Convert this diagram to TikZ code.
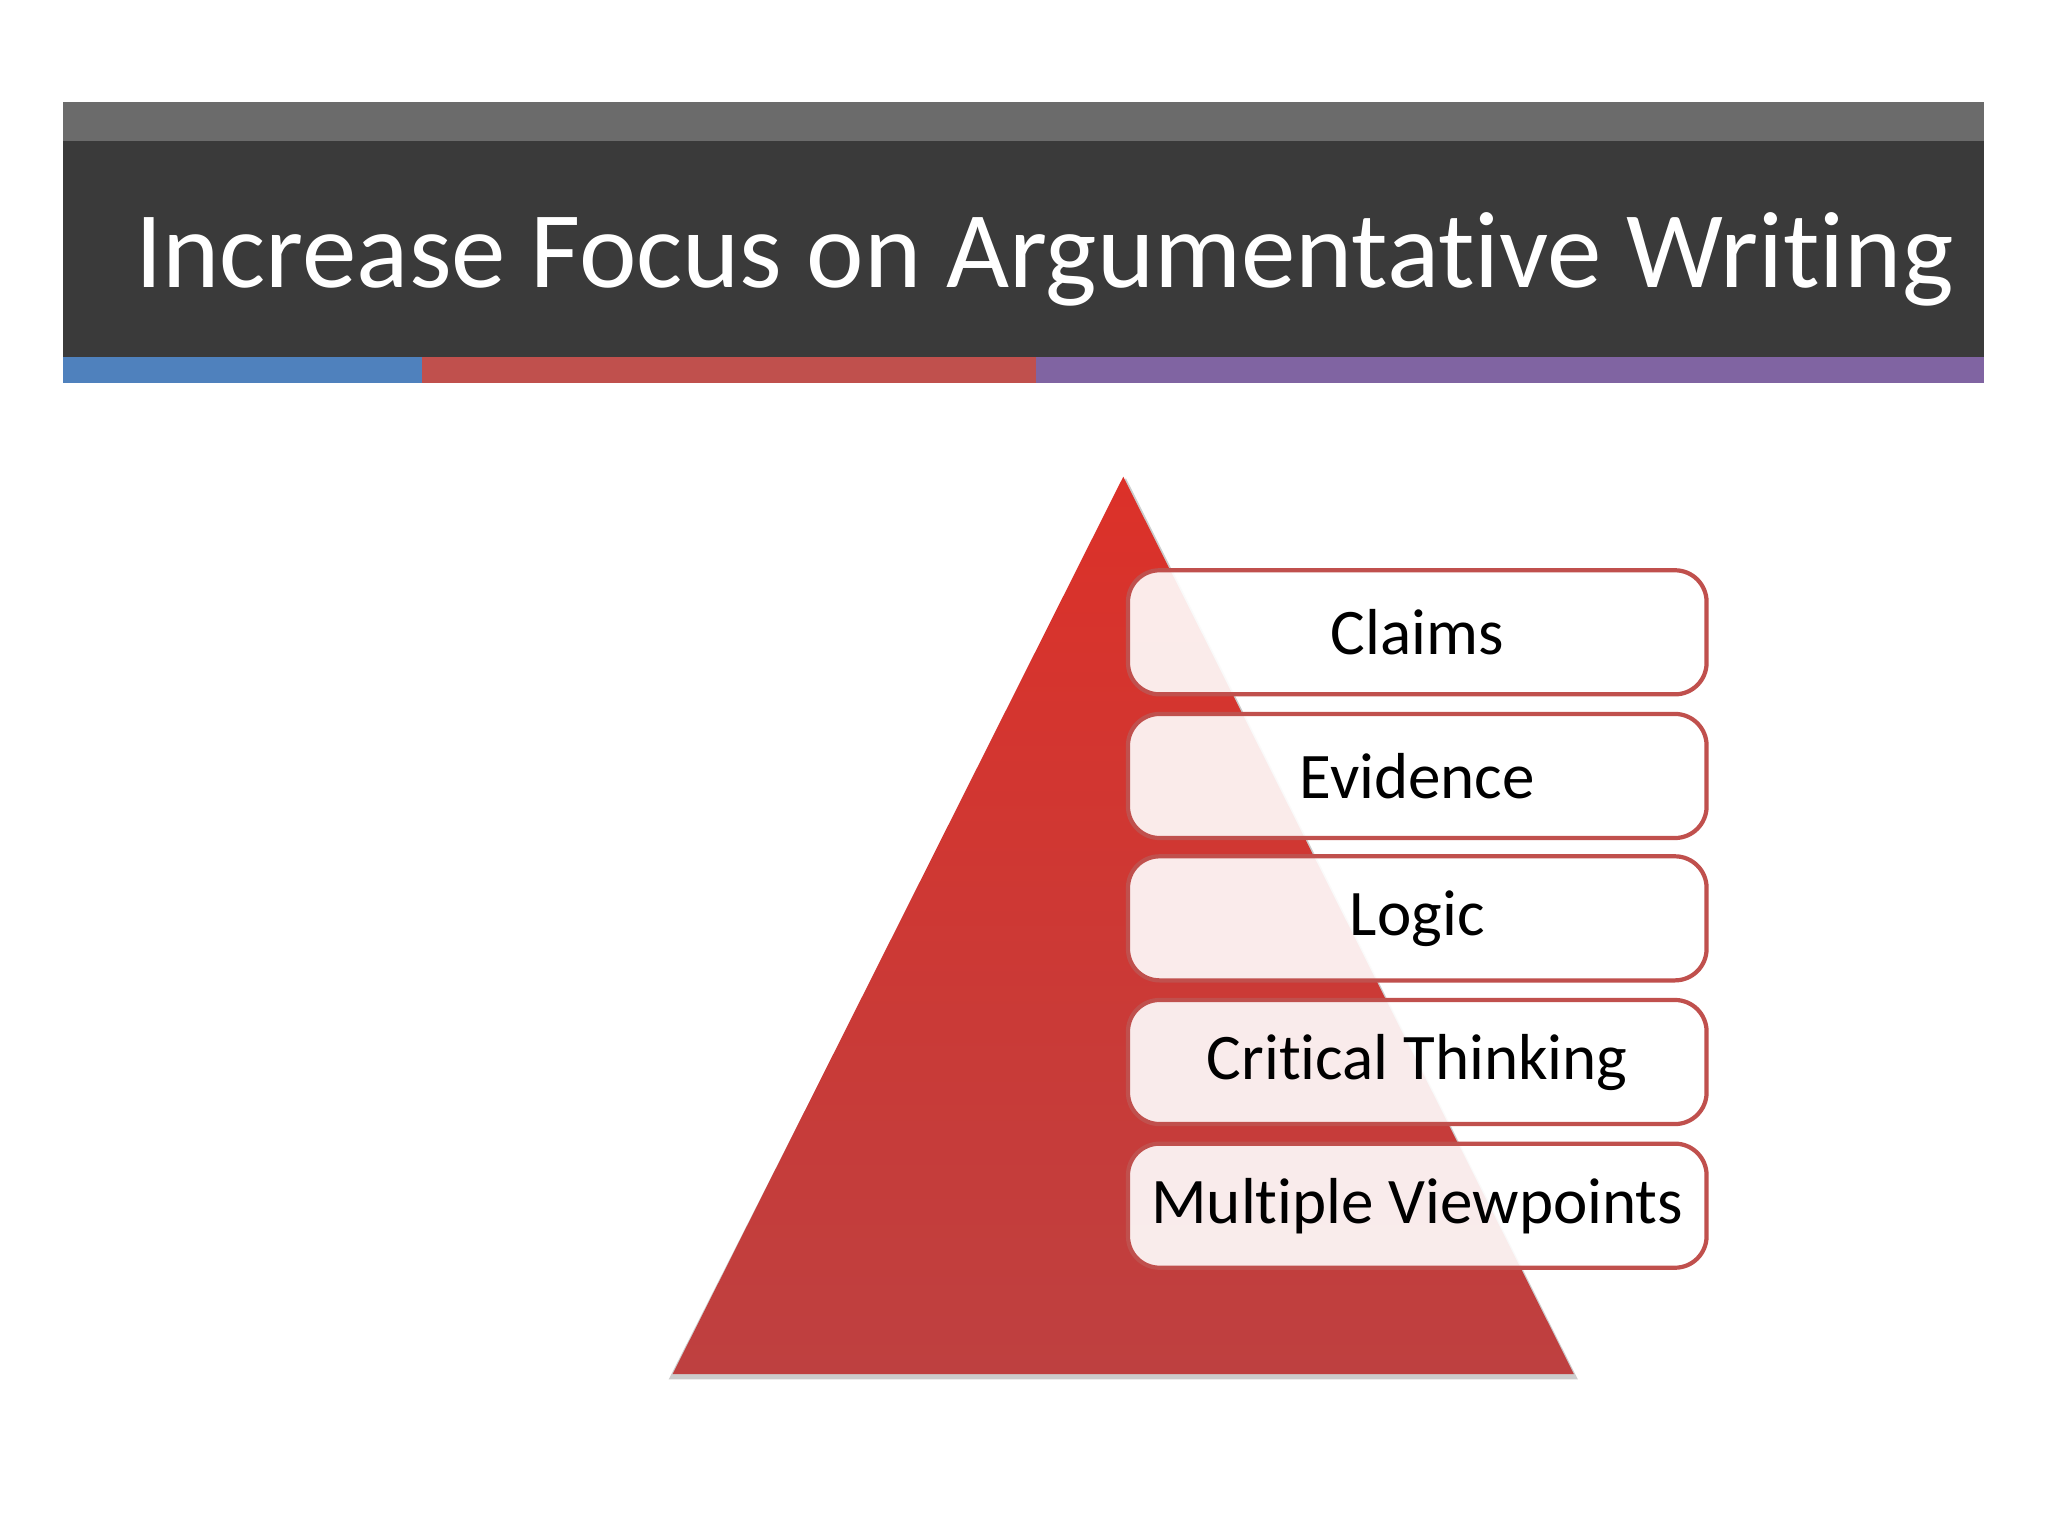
\documentclass[tikz,border=0pt]{standalone}
\usepackage{fontspec}
\setmainfont{Carlito}[Ligatures=NoCommon]
\definecolor{topgray}{HTML}{6B6B6B}
\definecolor{darkbar}{HTML}{3A3A3A}
\definecolor{sblue}{HTML}{4F81BD}
\definecolor{sred}{HTML}{C0504D}
\definecolor{spurple}{HTML}{8064A2}
\definecolor{tritop}{HTML}{DC3129}
\definecolor{tribot}{HTML}{BE4040}
\begin{document}
\begin{tikzpicture}[x=0.013061cm,y=-0.013061cm,
  itembox/.style={draw=sred,line width=1.2pt,rounded corners=9pt,fill=white,fill opacity=0.9,text opacity=1,
    minimum width=443*0.013061cm,minimum height=95*0.013061cm,font=\fontsize{18.5}{22}\selectfont,anchor=north west}]
\useasboundingbox (0,0) rectangle (1568,1176);
\fill[white] (0,0) rectangle (1568,1176);
\fill[topgray] (48,78) rectangle (1519,108);
\fill[darkbar] (48,108) rectangle (1519,274);
\fill[sblue] (48,273) rectangle (323,293);
\fill[sred] (323,273) rectangle (793,293);
\fill[spurple] (793,273) rectangle (1519,293);
\node[anchor=base west,text=white,font=\fontsize{31}{37}\selectfont,inner sep=0] (title) at (103,220) {Increase Focus on Argumentative Writing};
\fill[black,opacity=0.2] (862,366) -- (1208,1056) -- (512,1056) -- cycle;
\shade[top color=tritop,bottom color=tribot] (860,365) -- (1205,1052) -- (515,1052) -- cycle;
\node[itembox] (claims) at (862,435) {Claims};
\node[itembox] (evidence) at (862,545) {Evidence};
\node[itembox] (logic) at (862,654) {Logic};
\node[itembox] (critical) at (862,764) {Critical Thinking};
\node[itembox] (multi) at (862,874) {Multiple Viewpoints};
\end{tikzpicture}
\end{document}
